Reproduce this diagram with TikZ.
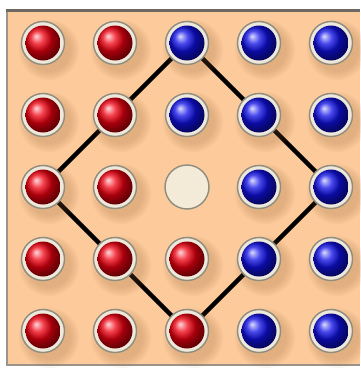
\documentclass[tikz,border=0pt]{standalone}
\definecolor{peach}{HTML}{FDCB9B}
\definecolor{framedark}{HTML}{6E6862}
\definecolor{framegray}{HTML}{9A948C}
\definecolor{ringfill}{HTML}{EEE9DA}
\definecolor{ringedge}{HTML}{8E8C7E}
\definecolor{holefill}{HTML}{F3EAD8}
\definecolor{shadowc}{HTML}{8A5A30}
\definecolor{ballred}{HTML}{F00010}
\definecolor{ballblue}{HTML}{1010E8}
\tikzset{
  shadowdisk/.style={fill=shadowc, opacity=0.05},
  ringdisk/.style={fill=ringfill, draw=ringedge, line width=1.4pt},
  holedisk/.style={fill=holefill, draw=ringedge, line width=1.4pt},
  diamondline/.style={line width=4.5pt, black}
}
\begin{document}
\begin{tikzpicture}[x=1pt,y=-1pt]
\useasboundingbox (0,0) rectangle (360,370);
\fill[white] (0,0) rectangle (360,370);
\fill[peach] (7,10) rectangle (360,365);
\draw[framegray, line width=2pt] (7,10) -- (7,365) -- (360,365);
\draw[framedark, line width=3pt] (6,10.5) -- (360,10.5);
% coordinates of grid points
\foreach \r in {1,...,5} {
  \foreach \c in {1,...,5} {
    \coordinate (c-\r-\c) at ({43+72*(\c-1)},{43+72*(\r-1)});
  }
}
% diamond
\draw[diamondline] (c-1-3) -- (c-3-5) -- (c-5-3) -- (c-3-1) -- cycle;
% balls
\foreach \r/\c/\col in {1/1/ballred,1/2/ballred,1/3/ballblue,1/4/ballblue,1/5/ballblue,
                        2/1/ballred,2/2/ballred,2/3/ballblue,2/4/ballblue,2/5/ballblue,
                        3/1/ballred,3/2/ballred,3/4/ballblue,3/5/ballblue,
                        4/1/ballred,4/2/ballred,4/3/ballred,4/4/ballblue,4/5/ballblue,
                        5/1/ballred,5/2/ballred,5/3/ballred,5/4/ballblue,5/5/ballblue} {
  \foreach \rad in {30,28,26,24,22} {
    \fill[shadowdisk] ([shift={(6,7)}]c-\r-\c) circle (\rad);
  }
  \path[ringdisk] (c-\r-\c) circle (21.5);
  \shade[ball color=\col] (c-\r-\c) circle (17.5);
}
% empty hole
\path[holedisk] (c-3-3) circle (22);
\end{tikzpicture}
\end{document}
